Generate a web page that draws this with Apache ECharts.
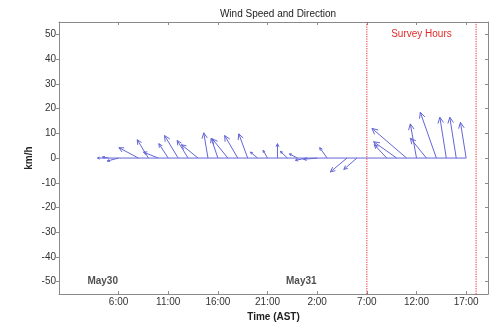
<!DOCTYPE html>
<html>
<head>
<meta charset="utf-8">
<script src="https://cdn.jsdelivr.net/npm/echarts@6/dist/echarts.min.js"></script>
<style>
html,body{margin:0;padding:0;background:#fff;}
#chart{width:497px;height:327px;}
</style>
</head>
<body>
<div id="chart"></div>
<script>
// Hours since May30 00:00 (AST)
const hours = [4, 5, 6, 8, 9, 10, 11, 12, 13, 14, 15, 16, 17, 18, 19, 20, 21, 22, 23, 24, 25, 26, 27, 29, 30, 33, 34, 35, 36, 37, 38, 39, 40, 41];
// East component (km/h)
const uKmh = [-0.5, -2.5, -4.6, -7.9, -4.5, -6.0, -3.8, -5.5, -4.4, -6.7, -1.7, -2.7, -6.3, -5.3, -3.6, -2.9, -1.8, 0.0, -2.8, -3.2, -4.8, -5.5, -3.0, -6.7, -5.3, -5.0, -9.3, -14.0, -2.5, -6.5, -6.5, -2.6, -2.6, -2.3];
// North component (km/h)
const vKmh = [0.0, 0.4, -1.2, 4.2, 7.4, 2.4, 5.8, 9.1, 7.1, 5.4, 10.2, 8.0, 7.8, 9.1, 9.8, 2.4, 3.1, 5.8, 2.7, 1.7, -0.9, -0.5, 4.2, -5.6, -4.6, 5.4, 6.6, 12.0, 13.8, 8.0, 18.5, 16.5, 16.5, 14.4];

const xTickHours = [6, 11, 16, 21, 26, 31, 36, 41];
const yTicks = [-50, -40, -30, -20, -10, 0, 10, 20, 30, 40, 50];
const dayLabels = ['May30', 'May31'];
const dayLabelHours = [4.4, 24.4];
const dayLabelLevel = -50;
const surveyHours = [31, 42];

const FONT = 'Liberation Sans, Arial, sans-serif';
const ARROW = '#6466d6';
const RED = '#e8262e';
const Y_MIN = -55, Y_MAX = 55;

const arrowData = hours.map((h, i) => [h, uKmh[i], vKmh[i]]);
const tMin = Math.min(...hours), tMax = Math.max(...hours);

function renderArrow(params, api) {
  const t = api.value(0), u = api.value(1), v = api.value(2);
  const base = api.coord([t, 0]);
  const tipY = api.coord([t, v])[1];
  const pxPerUnit = api.size([0, 1])[1];
  const tip = [base[0] + u * pxPerUnit, tipY];
  const dx = tip[0] - base[0], dy = tip[1] - base[1];
  const len = Math.sqrt(dx * dx + dy * dy);
  const children = [];
  if (len < 0.5) return { type: 'group', children };
  children.push({
    type: 'line',
    shape: { x1: base[0], y1: base[1], x2: tip[0], y2: tip[1] },
    style: { stroke: ARROW, lineWidth: 1 }
  });
  const hl = Math.max(2.5, Math.min(6.5, len * 0.24));
  const ang = Math.atan2(dy, dx);
  const a = 0.45;
  const p1 = [tip[0] - hl * Math.cos(ang - a), tip[1] - hl * Math.sin(ang - a)];
  const p2 = [tip[0] - hl * Math.cos(ang + a), tip[1] - hl * Math.sin(ang + a)];
  children.push({
    type: 'polyline',
    shape: { points: [p1, tip, p2] },
    style: { stroke: ARROW, lineWidth: 1, fill: null }
  });
  return { type: 'group', children };
}

const chart = echarts.init(document.getElementById('chart'), null, { renderer: 'canvas' });

const axisLineStyle = { color: '#8a8a8a', width: 1 };
const baseX = {
  type: 'value', min: 0, max: 43.2,
  axisLine: { show: true, onZero: false, lineStyle: axisLineStyle },
  splitLine: { show: false }
};
const baseY = {
  type: 'value', min: Y_MIN, max: Y_MAX,
  axisLine: { show: true, onZero: false, lineStyle: axisLineStyle },
  splitLine: { show: false }
};

const surveyLineSeries = surveyHours.map(h => ({
  type: 'line',
  data: [[h, Y_MIN], [h, Y_MAX]],
  symbol: 'none',
  silent: true,
  z: 1,
  lineStyle: { color: RED, type: [1.2, 1.2], width: 1 },
  itemStyle: { color: RED }
}));

chart.setOption({
  animation: false,
  backgroundColor: '#ffffff',
  title: {
    text: 'Wind Speed and Direction',
    left: 273, top: 4, textAlign: 'center',
    textStyle: { fontFamily: FONT, fontSize: 10, fontWeight: 'normal', color: '#222' }
  },
  grid: { left: 59, right: 9, top: 22, bottom: 32 },
  xAxis: [
    Object.assign({}, baseX, {
      position: 'bottom',
      name: 'Time (AST)', nameLocation: 'middle', nameGap: 16,
      nameTextStyle: { fontFamily: FONT, fontSize: 10, fontWeight: 'bold', color: '#222' },
      axisTick: { show: true, inside: true, length: 3, customValues: xTickHours, lineStyle: axisLineStyle },
      axisLabel: {
        show: true, margin: 3, customValues: xTickHours,
        fontFamily: FONT, fontSize: 10, color: '#333',
        formatter: v => (Math.round(v) % 24) + ':00'
      }
    }),
    Object.assign({}, baseX, {
      position: 'top',
      axisTick: { show: true, inside: true, length: 3, customValues: xTickHours, lineStyle: axisLineStyle },
      axisLabel: { show: false }
    })
  ],
  yAxis: [
    Object.assign({}, baseY, {
      position: 'left',
      name: 'km/h', nameLocation: 'middle', nameGap: 25, nameMoveOverlap: false,
      nameTextStyle: { fontFamily: FONT, fontSize: 10, fontWeight: 'bold', color: '#222' },
      axisTick: { show: true, inside: false, length: 3, customValues: yTicks, lineStyle: axisLineStyle },
      axisLabel: { show: true, margin: 3, customValues: yTicks, fontFamily: FONT, fontSize: 10, color: '#333' }
    }),
    Object.assign({}, baseY, {
      position: 'right',
      axisTick: { show: true, inside: true, length: 3, customValues: yTicks, lineStyle: axisLineStyle },
      axisLabel: { show: false }
    })
  ],
  series: [
    ...surveyLineSeries,
    {
      type: 'line',
      data: [[tMin, 0], [tMax, 0]],
      symbol: 'none',
      lineStyle: { color: ARROW, width: 1 },
      itemStyle: { color: ARROW },
      silent: true,
      z: 3,
      markArea: {
        silent: true,
        itemStyle: { color: 'rgba(0,0,0,0)' },
        label: {
          show: true, position: 'insideTop', distance: 7,
          fontFamily: FONT, fontSize: 10, color: '#e02a2a'
        },
        data: [[{ name: 'Survey Hours', xAxis: surveyHours[0] }, { xAxis: surveyHours[1] }]]
      }
    },
    {
      type: 'custom',
      renderItem: renderArrow,
      data: arrowData,
      clip: true,
      silent: true,
      z: 2
    },
    {
      type: 'scatter',
      symbolSize: 0,
      silent: true,
      data: dayLabels.map((d, i) => [dayLabelHours[i], dayLabelLevel, d]),
      label: {
        show: true, position: 'inside',
        formatter: p => p.value[2],
        fontFamily: FONT, fontSize: 10, fontWeight: 'bold', color: '#222'
      }
    }
  ]
});
</script>
</body>
</html>
